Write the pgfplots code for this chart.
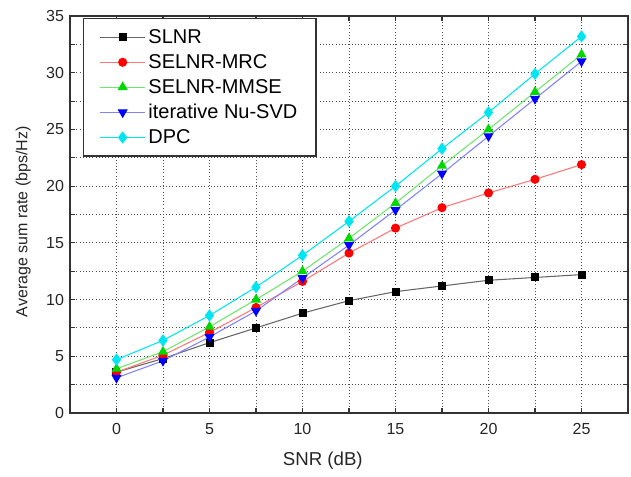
\documentclass[border=0pt]{standalone}
\usepackage{fontspec}
\setmainfont{Liberation Sans}
\usepackage{pgfplots}
\pgfplotsset{compat=1.18}

\definecolor{lred}{RGB}{255,120,120}
\definecolor{lgreen}{RGB}{110,230,110}
\definecolor{lblue}{RGB}{130,130,255}
\definecolor{mcyan}{RGB}{0,230,240}

\begin{document}
\begin{tikzpicture}
\path[use as bounding box] (-52.5pt,-48pt) rectangle (420.75pt,309.75pt);
\begin{axis}[
    at={(0,0)}, anchor=south west,
    scale only axis,
    width=418.5pt, height=297.75pt,
    xmin=-2.5, xmax=27.5,
    ymin=0, ymax=35,
    xtick={0,5,...,25},
    ytick={0,5,...,35},
    minor tick num=1,
    minor tick length=4pt, major tick length=4pt,
    tick style={black!80, line width=0.8pt},
    grid=both,
    major grid style={black!70, dotted, line width=0.7pt},
    minor grid style={black!70, dotted, line width=0.7pt},
    axis line style={black!80, line width=1.1pt},
    tick label style={font=\fontsize{12}{14}\selectfont, text=black!85},
    /pgf/number format/assume math mode=true,
    xticklabel style={yshift=-4.5pt},
    yticklabel style={xshift=-1pt},
    xlabel={SNR (dB)},
    ylabel={Average sum rate (bps/Hz)},
    xlabel style={font=\fontsize{14}{16}\selectfont, text=black!85,
        at={(axis description cs:0.453,-0.121)}, anchor=center},
    ylabel style={font=\fontsize{12}{14}\selectfont, text=black!85,
        at={(axis description cs:-0.084,0.482)}, anchor=center},
    legend style={at={(0.023,0.995)}, anchor=north west,
        draw=black!80, line width=1.1pt,
        font=\fontsize{15}{17}\selectfont,
        row sep=2.7pt, inner xsep=12pt, inner ysep=6pt,
        cells={anchor=west}},
    legend image code/.code={
        \draw[#1, mark repeat=2, mark phase=2, line width=0.8pt]
        plot coordinates {(0.27cm,0cm) (0.865cm,0cm) (1.46cm,0cm)};},
    every axis plot/.append style={line width=0.8pt},
]
\addplot[black!60, mark=square*, mark size=2.6pt,
    mark options={solid, draw=black, fill=black}] coordinates {
(0,3.6) (2.5,4.8) (5,6.2) (7.5,7.5) (10,8.8) (12.5,9.9) (15,10.7) (17.5,11.2) (20,11.7) (22.5,11.95) (25,12.2)};
\addlegendentry{SLNR}
\addplot[lred, mark=*, mark size=3pt,
    mark options={solid, draw=red, fill=red}] coordinates {
(0,3.6) (2.5,5.1) (5,7.1) (7.5,9.3) (10,11.6) (12.5,14.1) (15,16.3) (17.5,18.1) (20,19.4) (22.5,20.6) (25,21.9)};
\addlegendentry{SELNR-MRC}
\addplot[lgreen, mark=triangle*, mark size=3.6pt,
    mark options={solid, draw=green!85!black, fill=green!85!black}] coordinates {
(0,3.9) (2.5,5.4) (5,7.6) (7.5,10.0) (10,12.5) (12.5,15.4) (15,18.5) (17.5,21.8) (20,25.0) (22.5,28.3) (25,31.6)};
\addlegendentry{SELNR-MMSE}
\addplot[lblue, mark=triangle*, mark size=3.6pt,
    mark options={solid, rotate=180, draw=blue, fill=blue}] coordinates {
(0,3.1) (2.5,4.6) (5,6.7) (7.5,9.0) (10,11.9) (12.5,14.8) (15,17.9) (17.5,21.1) (20,24.4) (22.5,27.7) (25,31.0)};
\addlegendentry{iterative Nu-SVD}
\addplot[mcyan, mark=diamond*, mark size=4pt,
    mark options={solid, draw=mcyan, fill=mcyan}] coordinates {
(0,4.7) (2.5,6.4) (5,8.6) (7.5,11.1) (10,13.9) (12.5,16.9) (15,20.0) (17.5,23.3) (20,26.5) (22.5,29.9) (25,33.2)};
\addlegendentry{DPC}
\end{axis}
\end{tikzpicture}
\end{document}
